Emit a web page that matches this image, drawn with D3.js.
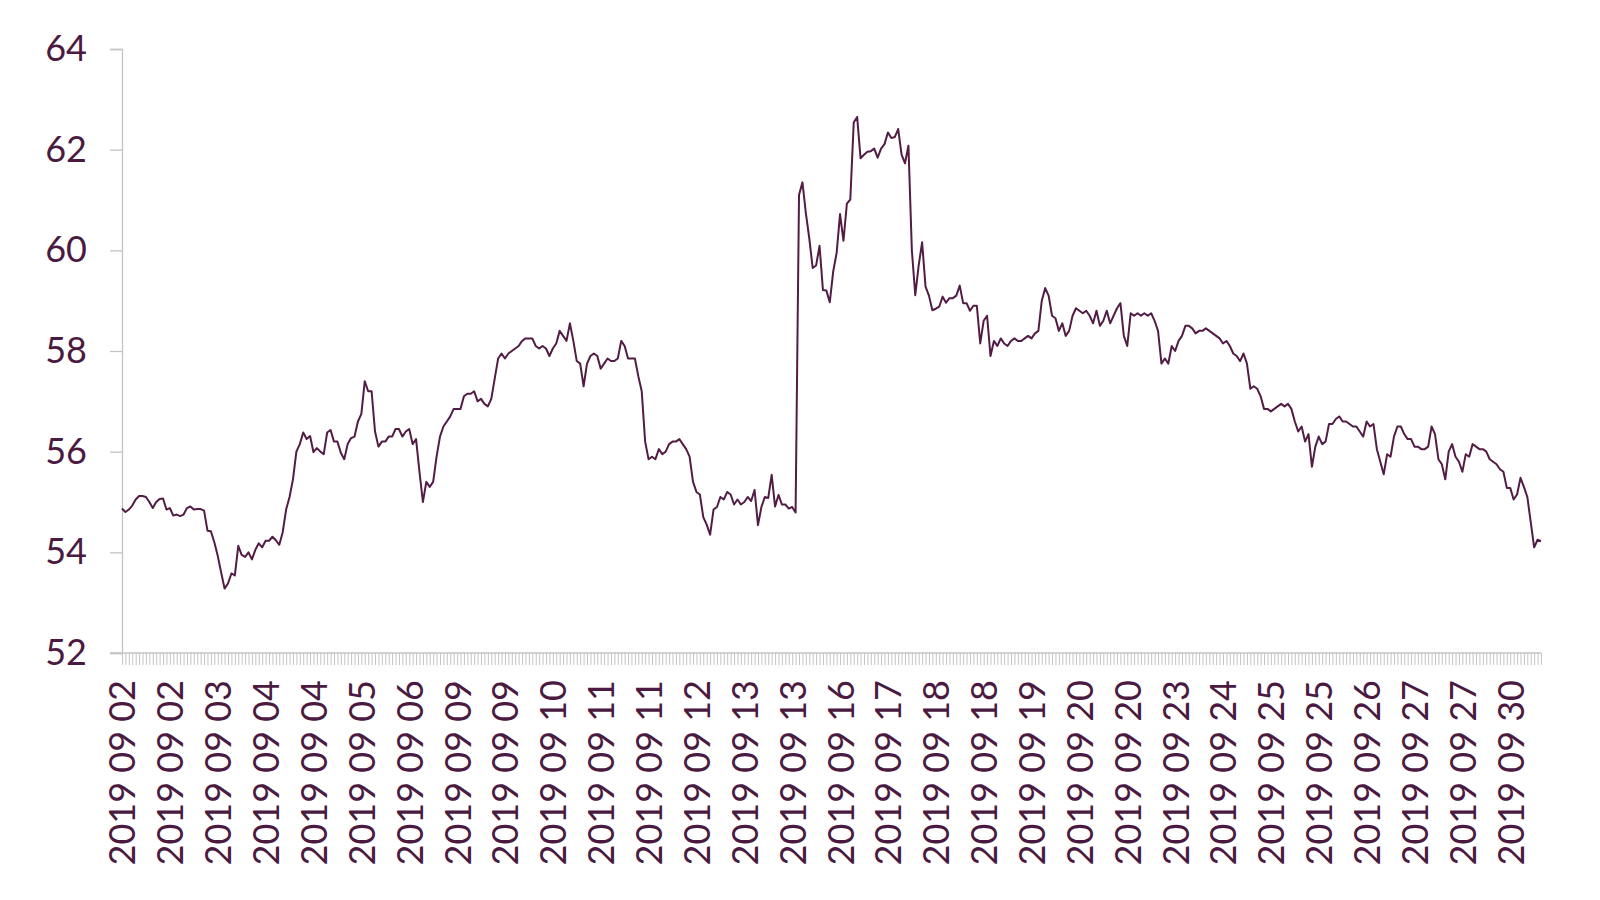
<!DOCTYPE html>
<html>
<head>
<meta charset="utf-8">
<script src="https://cdn.jsdelivr.net/npm/d3@7/dist/d3.min.js"></script>
<style>
  html, body { margin: 0; padding: 0; background: #ffffff; }
  svg { display: block; }
</style>
</head>
<body>
<svg id="chart" width="1600" height="900"></svg>
<script>
// ---- data ----
const values = [
  54.87, 54.80, 54.85, 54.93, 55.05, 55.12, 55.12, 55.10, 55.00, 54.88,
  55.00, 55.06, 55.07, 54.85, 54.88, 54.73, 54.75, 54.72, 54.75, 54.88,
  54.91, 54.85, 54.86, 54.86, 54.83, 54.43, 54.42, 54.20, 53.93, 53.60,
  53.28, 53.38, 53.58, 53.54, 54.13, 53.95, 53.91, 54.00, 53.86, 54.05,
  54.18, 54.10, 54.23, 54.23, 54.31, 54.24, 54.15, 54.40, 54.85, 55.10,
  55.45, 56.00, 56.15, 56.38, 56.25, 56.31, 55.99, 56.07, 56.00, 55.95,
  56.38, 56.43, 56.20, 56.20, 55.98, 55.85, 56.15, 56.27, 56.30, 56.60,
  56.75, 57.40, 57.20, 57.20, 56.40, 56.10, 56.20, 56.20, 56.30, 56.30,
  56.45, 56.45, 56.30, 56.40, 56.45, 56.15, 56.25, 55.60, 55.00, 55.40,
  55.30, 55.40, 55.90, 56.30, 56.50, 56.60, 56.70, 56.85, 56.85, 56.85,
  57.10, 57.15, 57.15, 57.20, 57.00, 57.05, 56.95, 56.90, 57.05, 57.45,
  57.85, 57.95, 57.85, 57.95, 58.00, 58.05, 58.10, 58.20, 58.25, 58.25,
  58.25, 58.10, 58.05, 58.10, 58.05, 57.90, 58.05, 58.15, 58.40, 58.30,
  58.20, 58.55, 58.20, 57.80, 57.75, 57.30, 57.75, 57.90, 57.95, 57.90,
  57.65, 57.75, 57.85, 57.80, 57.80, 57.85, 58.20, 58.10, 57.85, 57.85,
  57.85, 57.50, 57.20, 56.20, 55.85, 55.90, 55.85, 56.05, 55.95, 56.00,
  56.15, 56.20, 56.20, 56.25, 56.15, 56.05, 55.90, 55.40, 55.20, 55.15,
  54.70, 54.55, 54.35, 54.85, 54.90, 55.10, 55.05, 55.20, 55.15, 54.95,
  55.05, 54.95, 55.00, 55.10, 55.02, 55.24, 54.54, 54.90, 55.10, 55.08,
  55.54, 54.91, 55.14, 54.95, 54.95, 54.87, 54.90, 54.79,
  61.10, 61.35, 60.74, 60.24, 59.65, 59.70, 60.09, 59.21, 59.20, 58.97,
  59.58, 59.95, 60.72, 60.19, 60.93, 61.01, 62.54, 62.65, 61.83, 61.90,
  61.96, 61.97, 62.02, 61.84, 62.02, 62.11, 62.34, 62.23, 62.25, 62.41,
  61.90, 61.73, 62.08, 60.00, 59.11, 59.70, 60.16, 59.28, 59.10, 58.81,
  58.84, 58.88, 59.08, 58.96,
  59.05, 59.05, 59.10, 59.30, 58.95, 58.95, 58.80, 58.90, 58.90, 58.15,
  58.60, 58.70, 57.90, 58.20, 58.10, 58.25, 58.15, 58.10, 58.20, 58.25,
  58.20, 58.20, 58.25, 58.30, 58.25, 58.35, 58.40, 59.00, 59.25, 59.10,
  58.70, 58.65, 58.40, 58.55, 58.30, 58.40, 58.70, 58.85, 58.80, 58.75,
  58.80, 58.70, 58.55, 58.80, 58.50, 58.60, 58.80, 58.55, 58.70, 58.85,
  58.95, 58.30, 58.10, 58.75, 58.70, 58.75, 58.70, 58.75, 58.70, 58.75,
  58.60, 58.40, 57.75, 57.85, 57.75, 58.10, 58.00, 58.20, 58.30, 58.50,
  58.50, 58.45, 58.35, 58.40, 58.40, 58.45, 58.40, 58.35, 58.30, 58.25,
  58.15, 58.20, 58.10, 57.95, 57.90, 57.80, 57.95, 57.75, 57.25, 57.30,
  57.25, 57.10, 56.85, 56.85, 56.80, 56.85, 56.90, 56.95, 56.90, 56.95,
  56.85, 56.60, 56.40, 56.50, 56.20, 56.35, 55.70, 56.10, 56.30, 56.15,
  56.20, 56.55, 56.55, 56.65, 56.70, 56.60, 56.60, 56.55, 56.50, 56.50,
  56.40, 56.30, 56.60, 56.50, 56.55, 56.05, 55.80, 55.55, 55.95, 55.90,
  56.30, 56.50, 56.50, 56.35, 56.25, 56.25, 56.10, 56.10, 56.05, 56.05,
  56.10, 56.50, 56.35, 55.85, 55.75, 55.45, 56.00, 56.15, 55.90, 55.80,
  55.60, 55.95, 55.90, 56.15, 56.10, 56.05, 56.05, 56.00, 55.85, 55.80,
  55.75, 55.65, 55.60, 55.28, 55.28, 55.05, 55.15, 55.48, 55.30, 55.10,
  54.60, 54.10, 54.25, 54.22
];

// one category per observation; a date label is shown every `labelEvery` categories
const categories = values.map((v, i) => i);
const labelEvery = 14;
const tickLabels = [
  "2019 09 02", "2019 09 02", "2019 09 03", "2019 09 04", "2019 09 04",
  "2019 09 05", "2019 09 06", "2019 09 09", "2019 09 09", "2019 09 10",
  "2019 09 11", "2019 09 11", "2019 09 12", "2019 09 13", "2019 09 13",
  "2019 09 16", "2019 09 17", "2019 09 18", "2019 09 18", "2019 09 19",
  "2019 09 20", "2019 09 20", "2019 09 23", "2019 09 24", "2019 09 25",
  "2019 09 25", "2019 09 26", "2019 09 27", "2019 09 27", "2019 09 30"
];
const yTicks = [52, 54, 56, 58, 60, 62, 64];

// ---- styles ----
const textColor = "#4b1a41";
const lineColor = "#531c44";
const axisColor = "#c4c4c4";
const fontFamily = "Lato, 'Open Sans', sans-serif";

const svg = d3.select("#chart");
const plotLeft = 122, plotRight = 1541, plotTop = 49, plotBottom = 653;

const x = d3.scalePoint().domain(categories).range([plotLeft, plotRight]);
const y = d3.scaleLinear().domain([52, 64]).range([plotBottom, plotTop]);

// y axis
const yAxis = svg.append("g")
  .attr("transform", `translate(${plotLeft},0)`)
  .call(d3.axisLeft(y).tickValues(yTicks).tickSize(12).tickPadding(23).tickFormat(d3.format("d")));
yAxis.select(".domain").attr("stroke", axisColor).attr("stroke-width", 1.3);
yAxis.selectAll(".tick line").attr("stroke", axisColor).attr("stroke-width", 1.3);
yAxis.selectAll(".tick text")
  .attr("fill", textColor)
  .style("font-family", fontFamily)
  .style("font-size", "36px");

// x axis
const xAxis = svg.append("g")
  .attr("transform", `translate(0,${plotBottom})`)
  .call(d3.axisBottom(x)
    .tickSize(12)
    .tickSizeOuter(0)
    .tickFormat(d => d % labelEvery === 0 ? (tickLabels[d / labelEvery] || "") : ""));
xAxis.select(".domain").remove();
xAxis.append("line")
  .attr("x1", plotLeft - 12).attr("x2", plotRight)
  .attr("y1", 0).attr("y2", 0)
  .attr("stroke", axisColor).attr("stroke-width", 1.3);
xAxis.selectAll(".tick line").attr("stroke", axisColor).attr("stroke-width", 1);
xAxis.selectAll(".tick text")
  .attr("fill", textColor)
  .style("font-family", fontFamily)
  .style("font-size", "36px")
  .attr("text-anchor", "end")
  .attr("transform", "rotate(-90)")
  .attr("x", -27)
  .attr("y", 0)
  .attr("dy", "0.36em");

// line
const line = d3.line()
  .x((d, i) => x(categories[i]))
  .y(d => y(d));

svg.append("path")
  .datum(values)
  .attr("fill", "none")
  .attr("stroke", lineColor)
  .attr("stroke-width", 2)
  .attr("stroke-linejoin", "round")
  .attr("d", line);
</script>
</body>
</html>
